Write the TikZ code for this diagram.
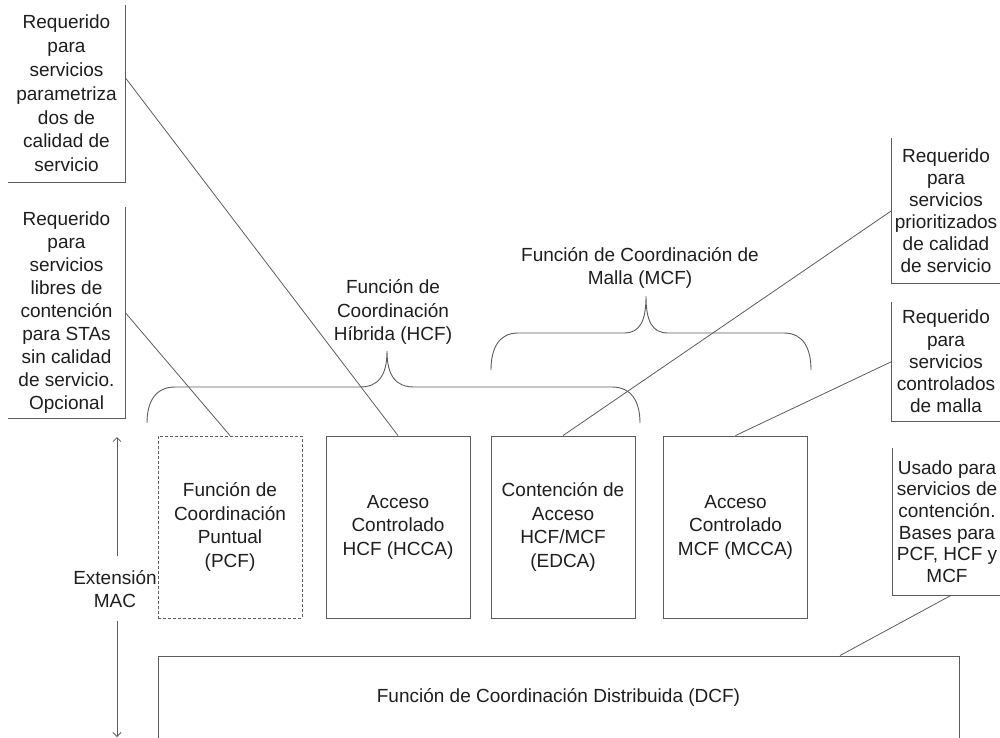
\documentclass[tikz,border=0pt]{standalone}
\usepackage{fontspec}
\setmainfont{Liberation Sans}
\usetikzlibrary{arrows.meta,calc}
\definecolor{ink}{HTML}{1E1E1E}
\definecolor{rule}{HTML}{5C5C5C}
\tikzset{
  txt/.style={align=center, inner sep=0pt, text=ink, font=\fontsize{19}{23.5}\selectfont},
  fbox/.style={txt, draw=rule, line width=0.9pt, minimum width=144pt, minimum height=182pt},
  callout/.style={txt, draw=none},
  side/.style={draw=rule, line width=0.9pt},
  lead/.style={draw=rule, line width=0.8pt},
  brace/.style={draw=rule, line width=0.9pt},
  tip/.style={-{Straight Barb[length=4pt,width=8pt]}},
}
\begin{document}
\begin{tikzpicture}[x=1pt,y=-1pt]
\path[use as bounding box] (0,0) rectangle (1000,737);
\clip (0,0) rectangle (1000,737);

% function boxes
\node[fbox, dashed, dash pattern=on 3pt off 2pt] (pcf) at (230,527) {Función de\\Coordinación\\Puntual\\(PCF)};
\node[fbox] (hcca) at (398,527) {Acceso\\Controlado\\HCF (HCCA)};
\node[fbox] (edca) at (563,527) {Contención de\\Acceso\\HCF/MCF\\(EDCA)};
\node[fbox] (mcca) at (735.5,527) {Acceso\\Controlado\\MCF (MCCA)};
\node[fbox, minimum width=801pt, minimum height=82pt] (dcf) at (558.5,697) {Función de Coordinación Distribuida (DCF)};

% callouts: text with two visible frame sides each
\node[callout, font=\fontsize{19}{23.8}\selectfont, minimum width=117pt, minimum height=177pt] (f1) at (66.5,93.5)
  {Requerido\\para\\servicios\\parametriza\\dos de\\calidad de\\servicio};
\node[callout, font=\fontsize{19}{23}\selectfont, minimum width=117pt, minimum height=211pt] (f2) at (66.5,312.5)
  {Requerido\\para\\servicios\\libres de\\contención\\para STAs\\sin calidad\\de servicio.\\Opcional};
\node[callout, font=\fontsize{19}{22}\selectfont, minimum width=108pt, minimum height=145pt] (f3) at (946,210.5)
  {Requerido\\para\\servicios\\prioritizados\\de calidad\\de servicio};
\node[callout, font=\fontsize{19}{22.2}\selectfont, minimum width=108pt, minimum height=119pt] (f4) at (946,361.5)
  {Requerido\\para\\servicios\\controlados\\de malla};
\node[callout, font=\fontsize{19}{21.6}\selectfont, minimum width=108pt, minimum height=147pt] (f5) at (947,521.5)
  {Usado para\\servicios de\\contención.\\Bases para\\PCF, HCF y\\MCF};
\draw[side] (f1.north east) -- (f1.south east) -- (f1.south west);
\draw[side] (f2.north east) -- (f2.south east) -- (f2.south west);
\draw[side] (f3.north west) -- (f3.south west) -- (f3.south east);
\draw[side] (f4.north west) -- (f4.south west) -- (f4.south east);
\draw[side] (f5.north west) -- (f5.south west) -- (f5.south east);

% callout leaders
\draw[lead] ($(f1.north east)!0.41!(f1.south east)$) -- (hcca.north);
\draw[lead] (f2.east) -- (pcf.north);
\draw[lead] (f3.west) -- (edca.north);
\draw[lead] (f4.west) -- (mcca.north);
\draw[lead] ($(f5.south west)!0.54!(f5.south east)$) -- ($(dcf.north west)!0.851!(dcf.north east)$);

% grouping braces
\draw[brace] (147,423) .. controls (147,401) and (156,387) .. (175,387)
  -- (360,387) .. controls (378,387) and (387,376) .. (387,351)
  .. controls (387,376) and (396,387) .. (414,387)
  -- (612,387) .. controls (631,387) and (640,401) .. (640,423);
\draw[brace] (491,370) .. controls (491,348) and (499,333) .. (518,333)
  -- (624,333) .. controls (640,333) and (646,321) .. (646,296)
  .. controls (646,321) and (652,333) .. (668,333)
  -- (784,333) .. controls (803,333) and (811,348) .. (811,370);

\node[txt] (hcf) at (393,312) {Función de\\Coordinación\\Híbrida (HCF)};
\node[txt] (mcf) at (640,268) {Función de Coordinación de\\Malla (MCF)};

% MAC extension span
\node[txt] (ext) at (115,589) {Extensión\\MAC};
\coordinate (extTop) at (117,437);
\coordinate (extBot) at (117,737);
\draw[lead, tip] ($(extTop |- ext.north)+(0,-14)$) -- (extTop);
\draw[lead, tip] ($(extBot |- ext.south)+(0,13)$) -- (extBot);
\end{tikzpicture}
\end{document}
